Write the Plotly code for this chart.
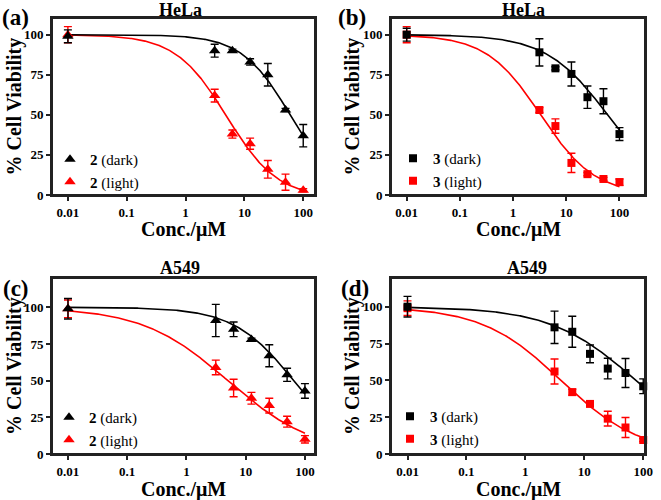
import numpy as np
import plotly.graph_objects as go

# ---------------- data ----------------
conc = [0.01, 3.125, 6.25, 12.5, 25, 50, 100]
x_tickvals = [0.01, 0.1, 1, 10, 100]
x_ticktext = ["0.01", "0.1", "1", "10", "100"]
y_tickvals = [0, 25, 50, 75, 100]

# (a) HeLa, compound 2
a_dark = [99, 90, 90, 83, 75, 53, 37]
a_dark_err = [4, 4, 1, 2, 7, 1, 7]
a_light = [100, 62, 38, 32, 16, 8, 3]
a_light_err = [5, 4, 2.5, 3.5, 5.5, 5, 1]
# (b) HeLa, compound 3
b_dark = [100, 89, 79, 75.5, 61, 58.5, 38]
b_dark_err = [4, 8.5, 1, 7.5, 7, 7.8, 4]
b_light = [100, 53, 43, 20, 13, 10, 8]
b_light_err = [5, 1.5, 4.5, 6, 1, 1, 2]
# (c) A549, compound 2
c_dark = [99, 91, 85, 78, 67, 54, 43]
c_dark_err = [7, 11, 5, 1, 7.5, 4.5, 5]
c_light = [99, 59, 45, 38, 33, 22, 10]
c_light_err = [6, 5, 6, 4, 5, 3.7, 2.5]
# (d) A549, compound 3
d_dark = [100, 86, 83, 68, 58, 55, 46]
d_dark_err = [7, 11, 10.5, 6, 7, 9.8, 5]
d_light = [99, 56, 42, 34, 24, 18, 9.5]
d_light_err = [5, 8.5, 2, 1, 5, 6.8, 1]

# fitted dose-response parameters: top, bottom, IC50, Hill slope
a_dark_fit = [100, 0, 60, 1.05]
a_light_fit = [100, -2, 5, 1.0]
b_dark_fit = [100, 0, 60, 0.75]
b_light_fit = [100, 0, 3.3, 0.85]
c_dark_fit = [100, 0, 65, 0.85]
c_light_fit = [100, 0, 5, 0.6]
d_dark_fit = [100, 0, 75, 0.6]
d_light_fit = [100, 0, 4, 0.65]

# ---------------- figure ----------------
W, H = 661, 500
FONT = "Liberation Serif"
RED = "#ff0000"
BLACK = "#000000"

panels = [
    dict(key="", title="HeLa", label="(a)", cmp="2", sym="triangle-up",
         dark=a_dark, dark_err=a_dark_err, light=a_light, light_err=a_light_err,
         dfit=a_dark_fit, lfit=a_light_fit, px=(52, 315, 18, 195),
         xr=[-2.27, 2.2], yr=[0, 110.4], title_xy=(180, 10), label_xy=(15, 17),
         leg_xy=(50, 143), xt_y=230, yt_x=14),
    dict(key="2", title="HeLa", label="(b)", cmp="3", sym="square",
         dark=b_dark, dark_err=b_dark_err, light=b_light, light_err=b_light_err,
         dfit=b_dark_fit, lfit=b_light_fit, px=(391, 645, 18, 195),
         xr=[-2.295, 2.48], yr=[0, 110.4], title_xy=(523, 10), label_xy=(352, 17),
         leg_xy=(393, 142), xt_y=230, yt_x=352),
    dict(key="3", title="A549", label="(c)", cmp="2", sym="triangle-up",
         dark=c_dark, dark_err=c_dark_err, light=c_light, light_err=c_light_err,
         dfit=c_dark_fit, lfit=c_light_fit, px=(52, 315, 278, 454),
         xr=[-2.27, 2.17], yr=[0, 120], title_xy=(180, 268), label_xy=(16, 288),
         leg_xy=(49, 401), xt_y=489, yt_x=14),
    dict(key="4", title="A549", label="(d)", cmp="3", sym="square",
         dark=d_dark, dark_err=d_dark_err, light=d_light, light_err=d_light_err,
         dfit=d_dark_fit, lfit=d_light_fit, px=(391, 645, 278, 454),
         xr=[-2.28, 2.03], yr=[0, 119.5], title_xy=(527, 268), label_xy=(355, 288),
         leg_xy=(390, 400), xt_y=489, yt_x=352),
]


def logistic(x, p):
    top, bottom, ic50, hill = p
    x = np.asarray(x, dtype=float)
    return bottom + (top - bottom) / (1 + (x / ic50) ** hill)


xs = np.logspace(-2, 2, 300)

fig = go.Figure()
annotations = []
shapes = []
layout = {}

for i, p in enumerate(panels):
    k = p["key"]
    xa, ya = "x" + k, "y" + k
    leg = "legend" + k
    for fit, col in ((p["lfit"], RED), (p["dfit"], BLACK)):
        fig.add_trace(go.Scatter(x=xs, y=logistic(xs, fit), mode="lines",
                                 line=dict(color=col, width=1.6), showlegend=False,
                                 xaxis=xa, yaxis=ya, hoverinfo="skip"))
    msize = 10 if p["sym"] == "triangle-up" else 8
    for vals, errs, col, name, rank in (
            (p["light"], p["light_err"], RED, f"<b>{p['cmp']}</b> (light)", 2),
            (p["dark"], p["dark_err"], BLACK, f"<b>{p['cmp']}</b> (dark)", 1)):
        fig.add_trace(go.Scatter(
            x=conc, y=vals, mode="markers", name=name, legend=leg, legendrank=rank,
            marker=dict(symbol=p["sym"], size=msize, color=col),
            error_y=dict(type="data", array=errs, visible=True, color=col,
                         thickness=1.4, width=4),
            cliponaxis=False, xaxis=xa, yaxis=ya))

    x0, x1, y0, y1 = p["px"]
    tickfont = dict(family=FONT, size=13, color=BLACK, weight="bold")
    layout["xaxis" + k] = dict(
        type="log", range=p["xr"], domain=[x0 / W, x1 / W], anchor=ya,
        automargin=False,
        showline=True, linecolor="#222222", linewidth=2, mirror=True,
        ticks="outside", ticklen=4, tickwidth=1.5, tickcolor="#222222",
        showgrid=False, zeroline=False,
        tickvals=x_tickvals, ticktext=x_ticktext, tickfont=tickfont)
    layout["yaxis" + k] = dict(
        range=p["yr"], domain=[1 - y1 / H, 1 - y0 / H], anchor=xa,
        automargin=False,
        showline=True, linecolor="#222222", linewidth=2, mirror=True,
        ticks="outside", ticklen=4, tickwidth=1.5, tickcolor="#222222",
        showgrid=False, zeroline=False,
        tickvals=y_tickvals, tickfont=tickfont)
    shapes.append(dict(type="rect", xref=xa + " domain", yref=ya + " domain",
                       x0=0, x1=1, y0=0, y1=1,
                       line=dict(color="#222222", width=2), fillcolor="rgba(0,0,0,0)",
                       layer="above"))
    lx, ly = p["leg_xy"]
    layout[leg] = dict(x=lx / W, y=1 - ly / H, xanchor="left", yanchor="top",
                       bgcolor="rgba(0,0,0,0)", borderwidth=0, tracegroupgap=0,
                       itemwidth=30,
                       font=dict(family=FONT, size=15, color=BLACK))
    tx, ty = p["title_xy"]
    annotations.append(dict(text="<b>" + p["title"] + "</b>", x=tx / W, y=1 - ty / H,
                            xref="paper", yref="paper", showarrow=False,
                            xanchor="center", yanchor="middle",
                            font=dict(family=FONT, size=18, color=BLACK)))
    lbx, lby = p["label_xy"]
    annotations.append(dict(text="<b>" + p["label"] + "</b>", x=lbx / W, y=1 - lby / H,
                            xref="paper", yref="paper", showarrow=False,
                            xanchor="center", yanchor="middle",
                            font=dict(family=FONT, size=23, color=BLACK)))
    annotations.append(dict(text="<b>Conc./μM</b>", x=(x0 + x1) / 2 / W,
                            y=1 - p["xt_y"] / H, xref="paper", yref="paper",
                            showarrow=False, xanchor="center", yanchor="middle",
                            font=dict(family=FONT, size=20, color=BLACK)))
    annotations.append(dict(text="<b>% Cell Viability</b>", x=p["yt_x"] / W,
                            y=1 - (y0 + y1) / 2 / H, xref="paper", yref="paper",
                            showarrow=False, xanchor="center", yanchor="middle",
                            textangle=-90,
                            font=dict(family=FONT, size=20, color=BLACK)))

fig.update_layout(
    width=W, height=H, margin=dict(l=0, r=0, t=0, b=0, autoexpand=False),
    paper_bgcolor="white", plot_bgcolor="white",
    annotations=annotations, shapes=shapes, **layout)

fig.write_html("out.html", config={"displayModeBar": False},
               post_script="document.body.style.margin='0px';"
                           "document.body.style.overflow='hidden';")
